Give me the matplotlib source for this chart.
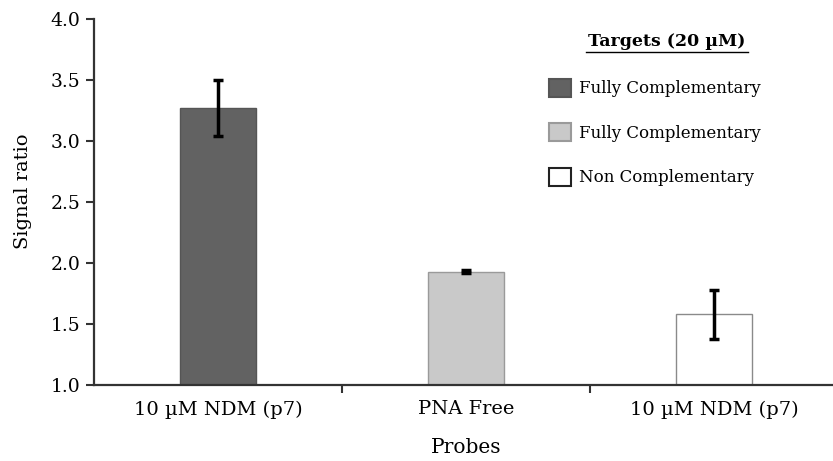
import numpy as np
import matplotlib.pyplot as plt
from matplotlib.patches import Patch
from matplotlib.lines import Line2D

# Data
probes = ['10 µM NDM (p7)', 'PNA Free', '10 µM NDM (p7)']
targets = ['Fully Complementary', 'Fully Complementary', 'Non Complementary']
signal_ratio = [3.27, 1.93, 1.58]
errors = [0.23, 0.01, 0.20]
yticks = [1.0, 1.5, 2.0, 2.5, 3.0, 3.5, 4.0]

face_colors = ['#626262', '#c9c9c9', '#ffffff']
edge_colors = ['#555555', '#9a9a9a', '#8a8a8a']

plt.rcParams['font.family'] = ['DejaVu Serif']

fig = plt.figure(figsize=(8.33, 4.61), dpi=100)
ax = fig.add_axes([94 / 833, 76 / 461, 744 / 833, 366 / 461])

x = np.arange(len(probes))
ax.bar(x, signal_ratio, width=0.31, bottom=0, color=face_colors,
       edgecolor=edge_colors, linewidth=1.0, zorder=2)
ax.errorbar(x, signal_ratio, yerr=errors, fmt='none', ecolor='black',
            elinewidth=2.5, capsize=3.5, capthick=2.5, zorder=3)

ax.set_xlim(-0.5, 2.5)
ax.set_ylim(1.0, 4.0)
ax.set_yticks(yticks)
ax.set_yticklabels([f'{v:.1f}' for v in yticks], fontsize=13.5)
ax.set_xticks(x)
ax.set_xticklabels(probes, fontsize=14)
ax.set_xticks([0.5, 1.5], minor=True)
ax.tick_params(axis='x', which='major', length=0, pad=11)
ax.tick_params(axis='x', which='minor', length=6, width=1.5, color='#333333',
               direction='out')
ax.tick_params(axis='y', length=6, width=1.5, color='#333333', pad=4)

for side in ['top', 'right']:
    ax.spines[side].set_visible(False)
for side in ['left', 'bottom']:
    ax.spines[side].set_linewidth(1.6)
    ax.spines[side].set_color('#333333')

ax.set_ylabel('Signal ratio', fontsize=14, labelpad=12)
ax.yaxis.set_label_coords(-0.083, 0.53)
ax.set_xlabel('Probes', fontsize=14.5, labelpad=14)

# Legend
handles = [Patch(facecolor=face_colors[i], edgecolor=edge_colors[i] if i < 2 else '#222222',
                 linewidth=1.5) for i in range(3)]
ax.legend(handles, targets, loc='upper left', bbox_to_anchor=(0.591, 0.878),
          frameon=False, fontsize=12, handlelength=1.35, handleheight=1.3,
          handletextpad=0.45, labelspacing=1.55)

fig.text(667 / 833, 1 - 42 / 461, 'Targets (20 µM)', fontsize=12.5,
         fontweight='bold', ha='center', va='center')
fig.add_artist(Line2D([586 / 833, 748 / 833], [1 - 52 / 461, 1 - 52 / 461],
                      color='black', linewidth=1.0))

fig.savefig('out.png', dpi=100)
